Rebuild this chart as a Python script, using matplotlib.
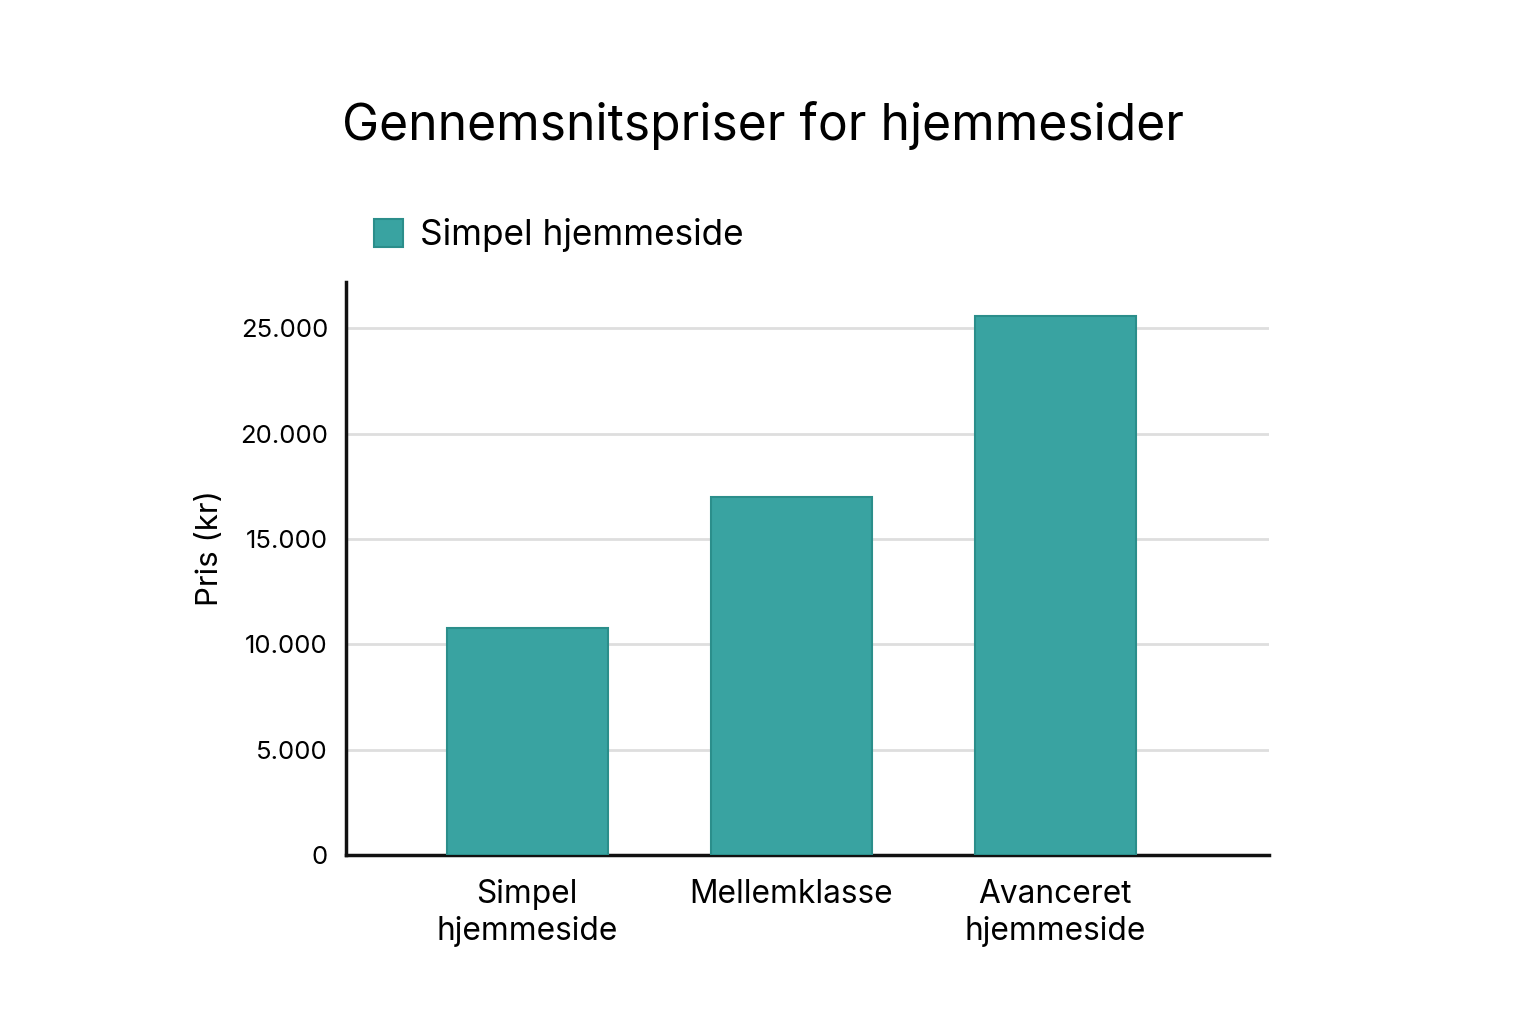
import matplotlib

matplotlib.use("Agg")
import matplotlib.pyplot as plt
from matplotlib.ticker import FuncFormatter

plt.rcParams["font.family"] = ["Inter", "DejaVu Sans"]

categories = ["Simpel\nhjemmeside", "Mellemklasse", "Avanceret\nhjemmeside"]
prices = [10800, 17000, 25600]
yticks = [0, 5000, 10000, 15000, 20000, 25000]
legend_label = "Simpel hjemmeside"
title = "Gennemsnitspriser for hjemmesider"

BAR_COLOR = "#39a3a1"
EDGE_COLOR = "#2b8e8b"

fig = plt.figure(figsize=(15.36, 10.24), dpi=100)
ax = fig.add_axes([0.2253, 0.165, 0.6009, 0.5596])

x = range(len(categories))
ax.bar(x, prices, width=0.61, color=BAR_COLOR, edgecolor=EDGE_COLOR,
       linewidth=1.5, label=legend_label, zorder=3)

ax.set_xlim(-0.686, 2.81)
ax.set_ylim(0, 27200)
ax.set_xticks(list(x))
ax.set_xticklabels(categories, fontsize=22.8, linespacing=1.27)
ax.set_yticks(yticks)
ax.yaxis.set_major_formatter(
    FuncFormatter(lambda v, _: f"{int(v):,}".replace(",", "."))
)
ax.tick_params(axis="y", labelsize=18.5, length=0, pad=13)
ax.tick_params(axis="x", length=0, pad=17)

ax.grid(axis="y", color="#dedede", linewidth=2, zorder=0)
for side in ["top", "right"]:
    ax.spines[side].set_visible(False)
for side in ["left", "bottom"]:
    ax.spines[side].set_linewidth(2.5)
    ax.spines[side].set_color("#111111")

ax.set_ylabel("Pris (kr)", fontsize=22.5)
# label anchor is the right edge of the rotated text
ax.yaxis.set_label_coords(-0.132, 0.536)

fig.text(0.497, 0.877, title, fontsize=35.8, ha="center", va="center")

ax.legend(loc="center left", bbox_to_anchor=(374 / 1536, 1 - 235 / 1024),
          bbox_transform=fig.transFigure, frameon=False, fontsize=25.3,
          handlelength=0.83, handleheight=0.83, handletextpad=0.48,
          borderpad=0, borderaxespad=0)

fig.savefig("out.png", dpi=100, facecolor="white")
